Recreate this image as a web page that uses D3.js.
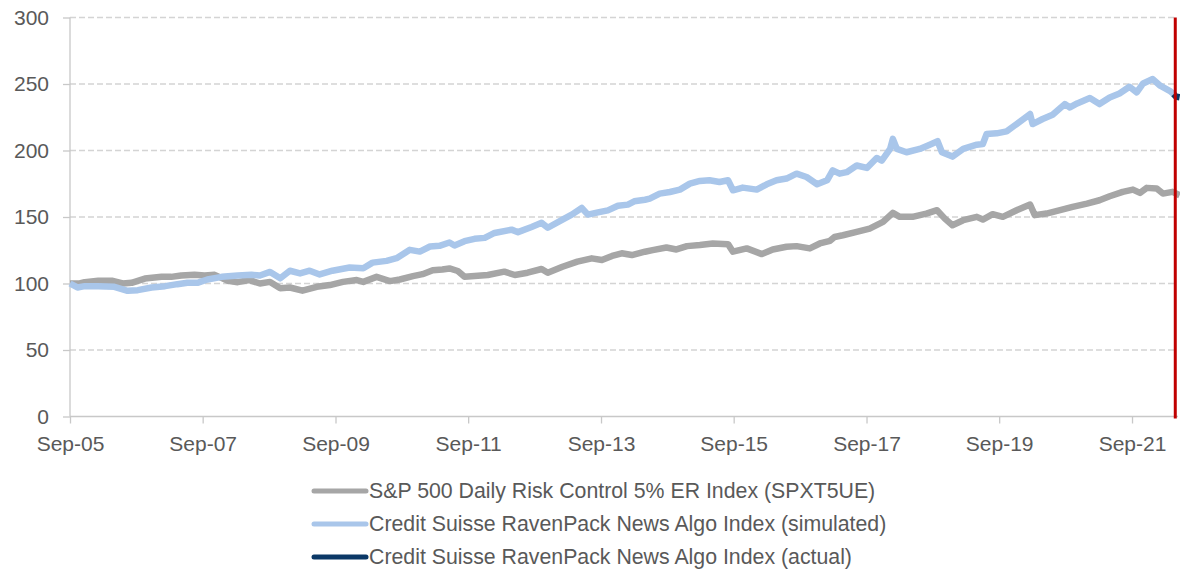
<!DOCTYPE html>
<html>
<head>
<meta charset="utf-8">
<script src="https://cdn.jsdelivr.net/npm/d3@7"></script>
<style>
  body { margin: 0; background: #fff; }
  text { font-family: "Liberation Sans", Arial, sans-serif; fill: #595959; }
</style>
</head>
<body>
<svg id="chart"></svg>
<script>
// S&P 500 Daily Risk Control 5% ER Index
var spxDates = ["2005-09-01","2005-10-25","2005-11-21","2006-02-03","2006-04-24","2006-06-18","2006-08-06","2006-10-18",
  "2007-01-18","2007-03-12","2007-05-06","2007-07-18","2007-09-12","2007-11-06","2008-01-18","2008-03-12","2008-05-15",
  "2008-07-12","2008-09-06","2008-11-01","2008-12-24","2009-03-03","2009-05-21","2009-08-01","2009-10-12","2009-12-27",
  "2010-02-01","2010-04-15","2010-06-27","2010-08-21","2010-11-01","2010-12-24","2011-02-18","2011-04-12","2011-05-21",
  "2011-07-06","2011-08-12","2011-10-06","2011-12-18","2012-03-18","2012-05-15","2012-07-24","2012-10-09","2012-11-12",
  "2013-02-01","2013-04-24","2013-07-12","2013-09-06","2013-11-01","2013-12-24","2014-02-18","2014-05-01","2014-06-12",
  "2014-08-27","2014-10-21","2014-12-18","2015-02-27","2015-05-09","2015-08-01","2015-08-28","2015-11-12","2016-02-03",
  "2016-04-03","2016-06-18","2016-08-12","2016-10-24","2016-12-18","2017-02-12","2017-03-09","2017-04-24","2017-07-09",
  "2017-09-18","2017-12-01","2018-01-24","2018-03-03","2018-05-12","2018-07-27","2018-09-24","2018-11-06","2018-12-18",
  "2019-02-15","2019-05-01","2019-06-03","2019-07-27","2019-09-21","2019-12-06","2020-02-18","2020-03-15","2020-05-18",
  "2020-08-01","2020-10-09","2020-12-27","2021-03-06","2021-05-01","2021-07-12","2021-09-06","2021-10-15","2021-11-21",
  "2022-01-15","2022-02-18","2022-04-12","2022-05-21"];
var spxValues = [100,100,101,102,102,100,100.5,103.7,
  105,105,106,106.5,106,106.5,102,101,102.6,
  100,101.2,96.4,97,94.6,97.5,98.8,101.2,102.6,
  101.2,105,101.8,103,105.5,107,110,110.5,111.3,
  109.4,105.1,105.6,106.4,108.9,106.4,108.1,110.9,108.1,
  112.6,116.4,118.9,117.7,120.7,122.7,121.4,123.9,125.1,
  127.1,125.6,128.1,128.9,130.1,129.6,123.9,126.4,122.1,
  125.6,127.6,128.1,126.4,130.1,132.1,135,136.3,138.8,
  141.3,146.3,153.1,150.1,150.1,152.6,155.1,148.8,143.8,
  147.6,150.1,148.1,152.1,150.1,155.1,159.4,151.4,152.6,
  155.1,157.6,160.1,162.6,165.6,168.9,170.6,168.1,171.9,
  171.4,167.6,168.9,166.4];

// Credit Suisse RavenPack News Algo Index (simulated)
var simDates = ["2005-09-01","2005-10-12","2005-11-21","2006-02-03","2006-05-03","2006-07-15","2006-09-09","2006-11-24",
  "2007-02-06","2007-04-15","2007-06-09","2007-08-03","2007-09-27","2007-12-15","2008-03-12","2008-05-27","2008-07-12",
  "2008-09-06","2008-11-01","2008-12-24","2009-02-18","2009-04-12","2009-06-06","2009-08-15","2009-11-18","2010-02-01",
  "2010-03-24","2010-06-09","2010-08-03","2010-10-15","2010-12-09","2011-02-03","2011-03-27","2011-05-21","2011-06-18",
  "2011-08-12","2011-10-06","2011-12-01","2012-01-24","2012-04-27","2012-06-01","2012-08-15","2012-10-09","2012-11-12",
  "2013-02-01","2013-03-24","2013-05-18","2013-06-21","2013-08-15","2013-10-09","2013-12-03","2014-01-27","2014-03-03",
  "2014-05-01","2014-05-27","2014-07-21","2014-09-15","2014-11-09","2015-01-03","2015-02-27","2015-04-21","2015-06-15",
  "2015-08-01","2015-08-28","2015-10-21","2016-01-06","2016-03-01","2016-04-24","2016-06-18","2016-08-12","2016-10-06",
  "2016-12-03","2017-01-27","2017-02-27","2017-04-06","2017-05-15","2017-07-09","2017-09-03","2017-10-27","2017-11-24",
  "2018-01-09","2018-01-24","2018-02-15","2018-04-09","2018-06-21","2018-08-15","2018-09-27","2018-10-21","2018-12-18",
  "2019-02-15","2019-05-01","2019-06-03","2019-06-24","2019-08-18","2019-10-12","2019-12-06","2020-02-18","2020-03-03",
  "2020-04-27","2020-06-21","2020-08-27","2020-09-24","2020-11-03","2021-01-12","2021-03-06","2021-05-01","2021-06-24",
  "2021-08-18","2021-09-27","2021-11-01","2021-12-24","2022-02-03","2022-03-27","2022-04-18"];
var simValues = [100,97,98,98,97.5,94.5,95,97,
  98,99.5,100.5,100.5,103,105,106,106.5,106,
  108.7,103.9,109.6,107.6,109.6,106.8,109.6,112,111.5,
  115.7,117,119,125.3,124,127.8,128.3,130.8,128.6,
  131.8,133.6,134.3,138,140.5,138.6,142.5,145.6,141.9,
  148,151.8,156.8,151.8,153.5,155,158.5,159.3,161.8,
  163,163.8,167.6,168.8,170.6,175.1,177.1,177.6,176.3,
  177.6,170.1,172.1,170.6,174.6,177.6,178.9,182.6,180.1,
  174.6,177.6,185.1,182.6,183.7,188.7,186.9,194.4,192.4,
  201.2,208.7,201.2,198.7,201.2,204.4,207,198.7,195.4,
  201.2,204.4,204.9,212.4,212.9,214.4,219.9,227.4,219.9,
  223.7,226.9,234.9,232.4,235.4,239.4,234.9,239.9,242.9,
  247.9,243.7,250.4,253.7,248.7,244.9,242.4];

// Credit Suisse RavenPack News Algo Index (actual)
var actDates = ["2022-04-18","2022-05-01","2022-05-21"];
var actValues = [242.4,240.5,240];

var markerDate = "2022-04-27"; // red vertical line
var yTicks = [0, 50, 100, 150, 200, 250, 300];
var xTickDates = ["2005-09-01","2007-09-01","2009-09-01","2011-09-01","2013-09-01","2015-09-01","2017-09-01","2019-09-01","2021-09-01"];
var legendLabels = ["S&P 500 Daily Risk Control 5% ER Index (SPXT5UE)",
  "Credit Suisse RavenPack News Algo Index (simulated)",
  "Credit Suisse RavenPack News Algo Index (actual)"];
var colors = ["#A6A6A6", "#A9C6EA", "#0B3866"];

var W = 1180, H = 573;
var parse = d3.timeParse("%Y-%m-%d");
var svg = d3.select("#chart").attr("width", W).attr("height", H);

var x = d3.scaleTime()
    .domain([parse("2005-09-01"), parse("2022-05-23")])
    .range([70, 1180]);
var y = d3.scaleLinear().domain([0, 300]).range([416.5, 17.5]);

// dashed gridlines
svg.append("g").selectAll("line")
    .data(yTicks.filter(function(d) { return d > 0; }))
    .enter().append("line")
    .attr("x1", 70).attr("x2", 1176)
    .attr("y1", function(d) { return y(d); })
    .attr("y2", function(d) { return y(d); })
    .attr("stroke", "#D4D4D4")
    .attr("stroke-width", 1.3)
    .attr("stroke-dasharray", "6,3");

// y axis
var yAxis = svg.append("g")
    .attr("transform", "translate(70,0)")
    .call(d3.axisLeft(y).tickValues(yTicks).tickSize(7).tickPadding(14));
// x axis
var xAxis = svg.append("g")
    .attr("transform", "translate(0," + y(0) + ")")
    .call(d3.axisBottom(x).tickValues(xTickDates.map(parse))
        .tickFormat(d3.timeFormat("%b-%y")).tickSize(7).tickPadding(13));

[yAxis, xAxis].forEach(function(a) {
    a.select(".domain").attr("stroke", "#C8C8C8").attr("stroke-width", 1.3);
    a.selectAll(".tick line").attr("stroke", "#C8C8C8").attr("stroke-width", 1.3);
    a.selectAll("text")
        .attr("fill", "#595959")
        .style("font-size", "21px")
        .style("font-family", '"Liberation Sans", Arial, sans-serif');
});
yAxis.select(".domain").attr("d", "M0," + y(300) + "V" + y(0));
xAxis.select(".domain").attr("d", "M70,0H1178");

var line = d3.line()
    .x(function(d) { return x(d[0]); })
    .y(function(d) { return y(d[1]); });

function pairs(dates, values) {
    return dates.map(function(d, i) { return [parse(d), values[i]]; });
}

var series = [pairs(spxDates, spxValues), pairs(simDates, simValues), pairs(actDates, actValues)];

svg.append("g").selectAll("path")
    .data(series)
    .enter().append("path")
    .attr("d", line)
    .attr("fill", "none")
    .attr("stroke", function(d, i) { return colors[i]; })
    .attr("stroke-width", 6.5)
    .attr("stroke-linejoin", "round");

// launch marker
svg.append("line")
    .attr("x1", x(parse(markerDate))).attr("x2", x(parse(markerDate)))
    .attr("y1", y(300)).attr("y2", y(0) + 2)
    .attr("stroke", "#C00000")
    .attr("stroke-width", 3);

// legend
var legend = svg.append("g").selectAll("g")
    .data(legendLabels)
    .enter().append("g")
    .attr("transform", function(d, i) { return "translate(0," + (491 + i * 33) + ")"; });

legend.append("line")
    .attr("x1", 314).attr("x2", 366)
    .attr("stroke", function(d, i) { return colors[i]; })
    .attr("stroke-width", 5)
    .attr("stroke-linecap", "round");

legend.append("text")
    .attr("x", 369)
    .attr("dy", "0.35em")
    .style("font-size", "21.3px")
    .text(function(d) { return d; });
</script>
</body>
</html>
